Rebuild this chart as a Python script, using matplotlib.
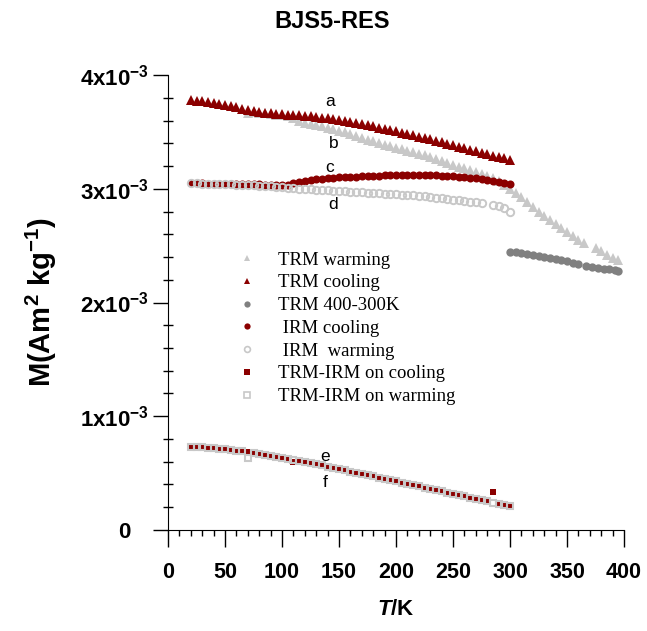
#import matplotlib to draw the chart
import matplotlib.pyplot as plt
from matplotlib.ticker import MultipleLocator, FixedLocator, FixedFormatter
from matplotlib.lines import Line2D
from matplotlib.transforms import ScaledTranslation

#fonts: arial-like sans for axes, times-like serif for the legend
plt.rcParams['font.family'] = 'Liberation Sans'
plt.rcParams['mathtext.fontset'] = 'custom'
plt.rcParams['mathtext.rm'] = 'Liberation Sans'
plt.rcParams['mathtext.bf'] = 'Liberation Sans:bold'
plt.rcParams['mathtext.it'] = 'Liberation Sans:italic'
plt.rcParams['mathtext.bfit'] = 'Liberation Sans:italic:bold'

#magnetisation values are in units of 1e-3 Am2/kg

#TRM cooling (a)
t_trm_cool = [20, 25, 30, 35, 40, 45, 50, 55, 60, 65, 70, 75, 80, 85, 90, 95, 100, 105, 110,
              115, 120, 125, 130, 135, 140, 145, 150, 155, 160, 165, 170, 175, 180, 185, 190,
              195, 200, 205, 210, 215, 220, 225, 230, 235, 240, 245, 250, 255, 260, 265, 270,
              275, 280, 285, 290, 295, 300]
m_trm_cool = [3.780, 3.775, 3.770, 3.763, 3.755, 3.746, 3.737, 3.727, 3.716, 3.705, 3.694,
              3.685, 3.677, 3.670, 3.665, 3.660, 3.656, 3.652, 3.649, 3.645, 3.641, 3.637,
              3.632, 3.626, 3.620, 3.613, 3.605, 3.596, 3.587, 3.578, 3.568, 3.558, 3.548,
              3.538, 3.527, 3.516, 3.505, 3.494, 3.483, 3.471, 3.459, 3.447, 3.435, 3.422,
              3.409, 3.396, 3.383, 3.370, 3.357, 3.343, 3.329, 3.315, 3.302, 3.290, 3.278,
              3.268, 3.255]

#TRM warming (b)
t_trm_warm = [70, 75, 80, 85, 90, 95, 100, 105, 110, 115, 120, 125, 130, 135, 140, 145, 150,
              155, 160, 165, 170, 175, 180, 185, 190, 195, 200, 205, 210, 215, 220, 225, 230,
              235, 240, 245, 250, 255, 260, 265, 270, 275, 280, 285, 290, 295, 300, 305, 310,
              315, 320, 325, 330, 335, 340, 345, 350, 355, 360, 365, 375, 380, 385, 390, 395]
m_trm_warm = [3.663, 3.678, 3.670, 3.662, 3.656, 3.650, 3.645, 3.638, 3.622, 3.594, 3.580,
              3.568, 3.558, 3.548, 3.537, 3.524, 3.511, 3.497, 3.482, 3.466, 3.449, 3.433,
              3.418, 3.403, 3.389, 3.375, 3.361, 3.347, 3.335, 3.322, 3.308, 3.293, 3.277,
              3.260, 3.243, 3.226, 3.210, 3.195, 3.180, 3.165, 3.150, 3.133, 3.114, 3.095,
              3.068, 3.035, 3.000, 2.965, 2.925, 2.884, 2.840, 2.795, 2.757, 2.725, 2.690,
              2.655, 2.620, 2.585, 2.552, 2.523, 2.479, 2.450, 2.418, 2.395, 2.374]

#TRM 400-300K
t_trm_hot = [300, 305, 310, 315, 320, 325, 330, 335, 340, 345, 350, 355, 360,
             367, 372, 377, 382, 387, 392, 395]
m_trm_hot = [2.447, 2.440, 2.432, 2.425, 2.417, 2.410, 2.402, 2.394, 2.386, 2.377, 2.365,
             2.350, 2.338, 2.321, 2.312, 2.305, 2.298, 2.291, 2.285, 2.280]

#IRM cooling (c)
t_irm_cool = [20, 25, 30, 35, 40, 45, 50, 55, 60, 65, 70, 75, 80, 85, 90, 95, 100, 105, 110,
              115, 120, 125, 130, 135, 140, 145, 150, 155, 160, 165, 170, 175, 180, 185, 190,
              195, 200, 205, 210, 215, 220, 225, 230, 235, 240, 245, 250, 255, 260, 265, 270,
              275, 280, 285, 290, 295, 300]
m_irm_cool = [3.048, 3.048, 3.047, 3.046, 3.046, 3.045, 3.044, 3.043, 3.042, 3.041, 3.040,
              3.039, 3.038, 3.037, 3.036, 3.035, 3.034, 3.035, 3.048, 3.060, 3.068, 3.075,
              3.082, 3.088, 3.093, 3.097, 3.100, 3.103, 3.105, 3.107, 3.109, 3.111, 3.113,
              3.115, 3.117, 3.118, 3.119, 3.120, 3.121, 3.121, 3.121, 3.120, 3.119, 3.118,
              3.116, 3.113, 3.110, 3.107, 3.103, 3.099, 3.094, 3.088, 3.080, 3.070, 3.060,
              3.050, 3.042]

#IRM warming (d)
t_irm_warm = [20, 25, 30, 35, 40, 45, 50, 55, 60, 65, 70, 75, 80, 85, 90, 95, 100, 105, 110,
              115, 120, 125, 130, 135, 140, 145, 150, 155, 160, 165, 170, 175, 180, 185, 190,
              195, 200, 205, 210, 215, 220, 225, 230, 235, 240, 245, 250, 255, 260, 265, 270,
              275, 285, 290, 295, 300]
m_irm_warm = [3.048, 3.047, 3.046, 3.045, 3.044, 3.043, 3.041, 3.039, 3.037, 3.035, 3.032,
              3.029, 3.026, 3.023, 3.020, 3.016, 3.012, 3.007, 3.003, 3.000, 2.997, 2.994,
              2.991, 2.988, 2.985, 2.982, 2.980, 2.977, 2.975, 2.972, 2.969, 2.966, 2.963,
              2.960, 2.958, 2.955, 2.952, 2.948, 2.945, 2.941, 2.937, 2.932, 2.927, 2.922,
              2.916, 2.911, 2.905, 2.899, 2.893, 2.887, 2.880, 2.872, 2.855, 2.845, 2.830,
              2.800]

#TRM-IRM on warming (f)
t_diff_warm = [20, 25, 30, 35, 40, 45, 50, 55, 60, 65, 70, 75, 80, 85, 90, 95, 100, 105, 110,
               115, 120, 125, 130, 135, 140, 145, 150, 155, 160, 165, 170, 175, 180, 185, 190,
               195, 200, 205, 210, 215, 220, 225, 230, 235, 240, 245, 250, 255, 260, 265, 270,
               275, 280, 285, 290, 295, 300]
m_diff_warm = [0.732, 0.730, 0.727, 0.723, 0.719, 0.714, 0.709, 0.703, 0.697, 0.690, 0.630,
               0.676, 0.669, 0.661, 0.653, 0.645, 0.636, 0.627, 0.617, 0.608, 0.598, 0.588,
               0.577, 0.567, 0.556, 0.545, 0.535, 0.524, 0.514, 0.503, 0.493, 0.482, 0.471,
               0.461, 0.450, 0.439, 0.428, 0.417, 0.406, 0.395, 0.384, 0.373, 0.362, 0.351,
               0.340, 0.329, 0.318, 0.307, 0.296, 0.285, 0.274, 0.263, 0.251, 0.240, 0.229,
               0.218, 0.207]

#TRM-IRM on cooling (e)
t_diff_cool = [20, 25, 30, 35, 40, 45, 50, 55, 60, 65, 70, 75, 80, 85, 90, 95, 100, 105, 110,
               115, 120, 125, 130, 135, 140, 145, 150, 155, 160, 165, 170, 175, 180, 185, 190,
               195, 200, 205, 210, 215, 220, 225, 230, 235, 240, 245, 250, 255, 260, 265, 270,
               275, 280, 285, 290, 295, 300]
m_diff_cool = [0.732, 0.730, 0.727, 0.723, 0.719, 0.714, 0.709, 0.703, 0.697, 0.690, 0.688,
               0.676, 0.669, 0.661, 0.653, 0.645, 0.636, 0.627, 0.595, 0.608, 0.598, 0.588,
               0.577, 0.567, 0.556, 0.545, 0.535, 0.524, 0.514, 0.503, 0.493, 0.482, 0.471,
               0.461, 0.450, 0.439, 0.428, 0.417, 0.406, 0.395, 0.384, 0.373, 0.350, 0.351,
               0.340, 0.329, 0.318, 0.307, 0.296, 0.285, 0.274, 0.263, 0.251, 0.330, 0.229,
               0.218, 0.207]

#curve letters and where they sit
letters = ['a', 'b', 'c', 'd', 'e', 'f']
letter_t = [142, 145, 142, 145, 138, 138]
letter_m = [3.763, 3.402, 3.191, 2.866, 0.645, 0.420]

#tick labels
x_ticks = [0, 50, 100, 150, 200, 250, 300, 350, 400]
y_ticks = [0, 1, 2, 3, 4]
y_tick_labels = [r'$\mathbf{0}$', r'$\mathbf{1x10^{-3}}$', r'$\mathbf{2x10^{-3}}$',
                 r'$\mathbf{3x10^{-3}}$', r'$\mathbf{4x10^{-3}}$']

dark_red = '#8b0000'
light_gray = '#c8c8c8'
mid_gray = '#808080'

fig = plt.figure(figsize=(6.47, 6.31), dpi=100)
ax = fig.add_axes([0.2597, 0.1601, 0.7048, 0.7210])

#convert to real units while plotting
def si(vals):
    return [v * 1e-3 for v in vals]

#gray warming first so the red cooling triangles sit on top
ax.plot(t_trm_warm, si(m_trm_warm), '^', color=light_gray, ms=7, mew=0)
ax.plot(t_trm_cool, si(m_trm_cool), '^', color=dark_red, ms=7, mew=0)
ax.plot(t_trm_hot, si(m_trm_hot), 'o', color=mid_gray, ms=6, mew=0)
ax.plot(t_irm_cool, si(m_irm_cool), 'o', color=dark_red, ms=5.8, mew=0)
ax.plot(t_irm_warm, si(m_irm_warm), 'o', mfc='none', mec=light_gray, ms=5.3, mew=1.4)
ax.plot(t_diff_cool, si(m_diff_cool), 's', color=dark_red, ms=4.8, mew=0)
ax.plot(t_diff_warm, si(m_diff_warm), 's', mfc='none', mec=light_gray, ms=4.8, mew=1.5)

for lab, t, m in zip(letters, letter_t, letter_m):
    ax.text(t, m * 1e-3, lab, fontsize=12.5, ha='center', va='center')

#legend with marker-only handles in the original order
handles = [
    Line2D([], [], ls='none', marker='^', color=light_gray, ms=5, mew=0),
    Line2D([], [], ls='none', marker='^', color=dark_red, ms=5, mew=0),
    Line2D([], [], ls='none', marker='o', color=mid_gray, ms=4.5, mew=0),
    Line2D([], [], ls='none', marker='o', color=dark_red, ms=4.5, mew=0),
    Line2D([], [], ls='none', marker='o', mfc='none', mec=light_gray, ms=4.2, mew=1.2),
    Line2D([], [], ls='none', marker='s', color=dark_red, ms=4.2, mew=0),
    Line2D([], [], ls='none', marker='s', mfc='none', mec=light_gray, ms=4.2, mew=1.2),
]
names = ['TRM warming', 'TRM cooling', 'TRM 400-300K', ' IRM cooling', ' IRM  warming',
         'TRM-IRM on cooling', 'TRM-IRM on warming']
ax.legend(handles, names, loc='upper left', bbox_to_anchor=(0.153, 0.612), frameon=False,
          borderpad=0, borderaxespad=0, handlelength=1.0, handletextpad=1.15,
          labelspacing=0.3, prop={'family': 'Liberation Serif', 'size': 13.5})

#axes look
ax.set_xlim(0, 400)
ax.set_ylim(0, 4e-3)
ax.spines['top'].set_visible(False)
ax.spines['right'].set_visible(False)
ax.xaxis.set_major_locator(FixedLocator(x_ticks))
ax.xaxis.set_minor_locator(MultipleLocator(10))
ax.yaxis.set_major_locator(FixedLocator(si(y_ticks)))
ax.yaxis.set_major_formatter(FixedFormatter(y_tick_labels))
ax.yaxis.set_minor_locator(MultipleLocator(0.2e-3))
ax.set_xticklabels([str(v) for v in x_ticks], fontweight='bold')
ax.tick_params(axis='x', which='major', direction='out', length=12, width=1, pad=11, labelsize=15.5)
ax.tick_params(axis='x', which='minor', direction='out', length=4.5, width=1)
ax.tick_params(axis='y', which='major', direction='out', length=11, width=1, pad=3, labelsize=16)
ax.tick_params(axis='y', which='minor', direction='inout', length=7, width=1)

#the zero label sits further left, lined up with the "10" of the others
zero_label = ax.yaxis.get_major_ticks()[0].label1
zero_label.set_transform(zero_label.get_transform() + ScaledTranslation(-17 / 100, 0, fig.dpi_scale_trans))

ax.set_xlabel(r'$\mathbfit{T}$/K', fontsize=16, fontweight='bold')
ax.xaxis.set_label_coords(0.5, -0.152)
ax.set_ylabel(r'M(Am$^{\mathbf{2}}$ kg$^{\mathbf{-1}}$)', fontsize=21, fontweight='bold')
ax.yaxis.set_label_coords(-0.238, 0.5)

fig.text(332 / 647, 1 - 22 / 631, 'BJS5-RES', fontsize=17, fontweight='bold',
         ha='center', va='center')

plt.savefig('out.png', dpi=100)
